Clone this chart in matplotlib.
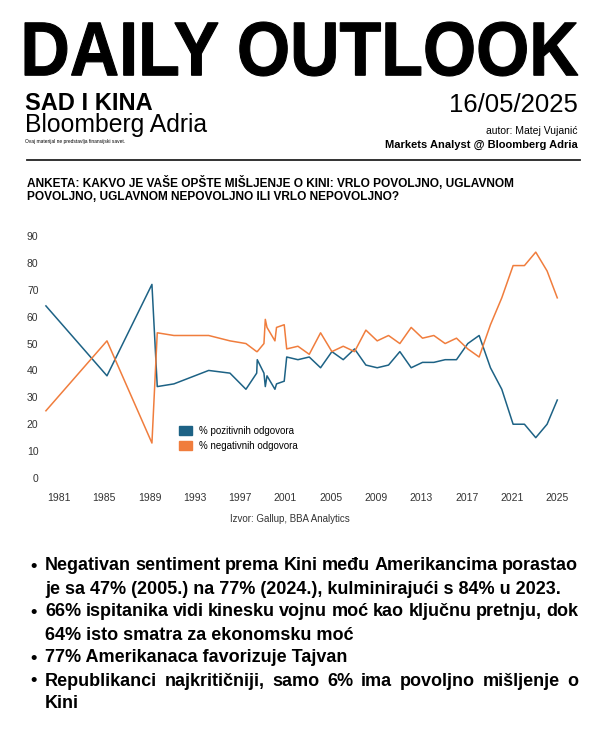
import matplotlib
matplotlib.use("Agg")
import matplotlib.pyplot as plt
import matplotlib.patches as patches
from matplotlib.textpath import TextPath
from matplotlib.font_manager import FontProperties
from matplotlib.transforms import Affine2D

# Gallup: misljenje Amerikanaca o Kini (decimalna godina ankete)
years = [1979.85, 1985.24, 1989.21, 1989.68, 1991.15, 1994.22, 1996.10, 1997.51,
         1998.46, 1998.51, 1999.10, 1999.22, 1999.37, 2000.07, 2000.21, 2000.89,
         2001.11, 2002.1, 2003.1, 2004.1, 2005.1, 2006.1, 2007.1, 2008.1, 2009.1,
         2010.1, 2011.1, 2012.1, 2013.1, 2014.1, 2015.1, 2016.1, 2017.1, 2018.1,
         2019.1, 2020.1, 2021.1, 2022.1, 2023.1, 2024.1, 2025.0]
positive = [64, 38, 72, 34, 35, 40, 39, 33,
            39, 44, 39, 34, 38, 33, 35, 36,
            45, 44, 45, 41, 47, 44, 48, 42, 41,
            42, 47, 41, 43, 43, 44, 44, 50, 53,
            41, 33, 20, 20, 15, 20, 29]
negative = [25, 51, 13, 54, 53, 53, 51, 50,
            47, 47, 50, 59, 56, 51, 56, 57,
            48, 49, 46, 54, 47, 49, 47, 55, 51,
            53, 50, 56, 52, 53, 50, 52, 48, 45,
            57, 67, 79, 79, 84, 77, 67]
tick_years = list(range(1981, 2026, 4))
y_ticks = list(range(0, 91, 10))
labels = ['% pozitivnih odgovora', '% negativnih odgovora']

bullets = [
    ("Negativan sentiment prema Kini među Amerikancima porastao", True, True),
    ("je sa 47% (2005.) na 77% (2024.), kulminirajući s 84% u 2023.", False, False),
    ("66% ispitanika vidi kinesku vojnu moć kao ključnu pretnju, dok", True, True),
    ("64% isto smatra za ekonomsku moć", False, False),
    ("77% Amerikanaca favorizuje Tajvan", True, False),
    ("Republikanci najkritičniji, samo 6% ima povoljno mišljenje o", True, True),
    ("Kini", False, False),
]

BLUE = '#1d6285'
ORANGE = '#f07d3d'
FONT = 'Liberation Sans'
plt.rcParams['font.family'] = [FONT, 'DejaVu Sans']

fig = plt.figure(figsize=(6, 7.5), dpi=100)
# pozadinske ose u pikselima (y ide nadole)
bg = fig.add_axes([0, 0, 1, 1])
bg.set_xlim(0, 600)
bg.set_ylim(750, 0)
bg.axis('off')


def fit_text(s, x0, x1, y_top, y_bottom, weight='bold'):
    tp = TextPath((0, 0), s, size=100, prop=FontProperties(family=FONT, weight=weight))
    bb = tp.get_extents()
    sx = (x1 - x0) / bb.width
    sy = (y_bottom - y_top) / bb.height
    tr = Affine2D().translate(-bb.x0, -bb.y0).scale(sx, -sy).translate(x0, y_bottom)
    bg.add_patch(patches.PathPatch(tr.transform_path(tp), fc='black', ec='black', lw=0.8))


def justify(s, x0, x1, y, **kw):
    words = s.split()
    r = fig.canvas.get_renderer()
    texts = [bg.text(0, y, w, **kw) for w in words]
    widths = [t.get_window_extent(r).width for t in texts]
    gap = (x1 - x0 - sum(widths)) / (len(words) - 1)
    x = x0
    for t, w in zip(texts, widths):
        t.set_x(x)
        x += w + gap


# zaglavlje
fit_text('DAILY OUTLOOK', 25, 578, 22, 76)
bg.text(25, 110, 'SAD I KINA', fontsize=17, fontweight='bold', va='baseline')
bg.text(25, 132, 'Bloomberg Adria', fontsize=17.8, va='baseline')
bg.text(25, 143, 'Ovaj materijal ne predstavlja finansijski savet.', fontsize=3.5, va='baseline')
bg.text(578, 112, '16/05/2025', fontsize=18.5, ha='right', va='baseline')
bg.text(578, 134, 'autor: Matej Vujanić', fontsize=7.5, ha='right', va='baseline')
bg.text(578, 148, 'Markets Analyst @ Bloomberg Adria', fontsize=8, fontweight='bold',
        ha='right', va='baseline')
bg.plot([27, 580], [160, 160], color='#222222', lw=1.3)

bg.text(27, 183, 'ANKETA: KAKVO JE VAŠE OPŠTE MIŠLJENJE O KINI: VRLO POVOLJNO, UGLAVNOM',
        fontsize=8.6, fontweight='bold', va='center')
bg.text(27, 197, 'POVOLJNO, UGLAVNOM NEPOVOLJNO ILI VRLO NEPOVOLJNO?',
        fontsize=8.6, fontweight='bold', va='center')

# grafikon
ax = fig.add_axes([44 / 600, (750 - 478) / 750, 528 / 600, 242 / 750])
ax.plot(years, positive, color=BLUE, lw=1.1)
ax.plot(years, negative, color=ORANGE, lw=1.1)
ax.set_xlim(1979.68, 2026.3)
ax.set_ylim(0, 90)
ax.set_xticks(tick_years)
ax.set_yticks(y_ticks)
ax.tick_params(length=0, labelsize=7.5, colors='#333333')
ax.tick_params(axis='x', pad=11)
ax.tick_params(axis='y', pad=4)
for s in ax.spines.values():
    s.set_visible(False)
ax.patch.set_alpha(0)

handles = [patches.Patch(color=BLUE), patches.Patch(color=ORANGE)]
ax.legend(handles, labels, loc='upper left', bbox_to_anchor=(179, 426),
          bbox_transform=bg.transData, frameon=False, fontsize=7,
          handlelength=1.35, handleheight=1.0, handletextpad=0.7,
          labelspacing=0.5, borderpad=0, borderaxespad=0)

bg.text(290, 519, 'Izvor: Gallup, BBA Analytics', fontsize=7, color='#333333',
        ha='center', va='center')

# tacke
y = 566
for text, dot, just in bullets:
    if dot:
        bg.text(30, y, '•', fontsize=13, fontweight='bold', va='center')
    if just:
        justify(text, 45, 578, y, fontsize=13, fontweight='bold', va='center')
    else:
        bg.text(45, y, text, fontsize=13, fontweight='bold', va='center')
    y += 23

fig.savefig('out.png', dpi=100)
